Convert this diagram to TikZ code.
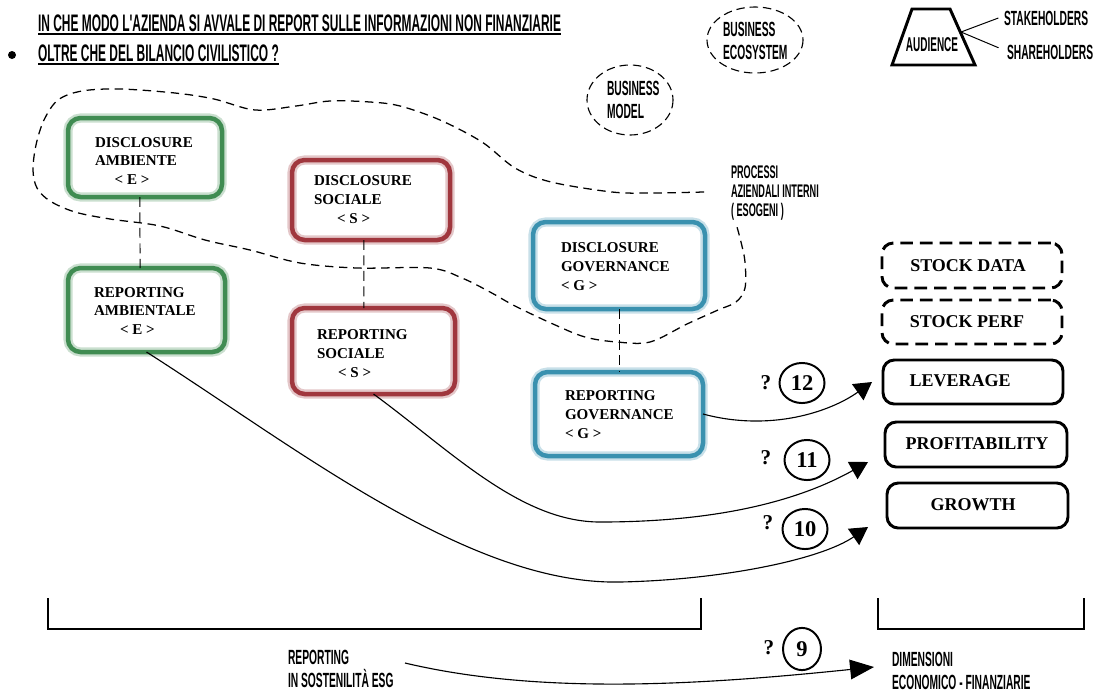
\documentclass[tikz,border=0pt]{standalone}
\usepackage{fontspec}
\setmainfont{Liberation Serif}
\newfontfamily\cndfont{Liberation Sans Bold}[FakeStretch=0.5]
\usetikzlibrary{arrows.meta,fit,shapes.geometric}

\definecolor{esgG}{RGB}{64,140,82}
\definecolor{esgS}{RGB}{160,55,62}
\definecolor{esgB}{RGB}{58,145,175}

\begin{document}
\begin{tikzpicture}[x=0.025cm, y=-0.025cm,
  every node/.style={inner sep=0pt, outer sep=0pt},
  % condensed sans labels
  ttl/.style={font=\cndfont\fontsize{17pt}{20pt}\selectfont, anchor=base west},
  lbl/.style={font=\cndfont\fontsize{14.6pt}{16pt}\selectfont, align=left, anchor=west},
  lblsm/.style={font=\cndfont\fontsize{13pt}{13.5pt}\selectfont, align=left, anchor=west},
  % ESG boxes
  esgbox/.style={draw=#1, line width=3.2pt, rounded corners=9pt,
    preaction={draw=#1!28, line width=6.5pt}},
  btxt/.style={font=\bfseries\fontsize{10.7pt}{13.5pt}\selectfont, align=left, anchor=west},
  % financial dimension boxes
  figbox/.style={draw, line width=2.1pt, rounded corners=8pt},
  figdash/.style={figbox, dash pattern=on 9pt off 5pt},
  rtxt/.style={font=\bfseries\fontsize{12.8pt}{15pt}\selectfont},
  % numbered questions
  qnum/.style={draw, ellipse, line width=1.4pt, minimum width=32pt, minimum height=28.5pt,
    font=\bfseries\fontsize{16pt}{16pt}\selectfont},
  qmark/.style={font=\bfseries\fontsize{15pt}{15pt}\selectfont},
  % lines
  vlink/.style={line width=0.7pt, dash pattern=on 7pt off 4pt},
  flow/.style={line width=0.8pt, -{Triangle[length=12.5pt,width=14pt]}},
  cloud/.style={line width=0.9pt, dash pattern=on 6pt off 4pt},
  bubble/.style={line width=0.8pt, dash pattern=on 6pt off 3.5pt},
  brk/.style={line width=2pt}
]
\fill[white] (0,0) rectangle (1102,693);
\useasboundingbox (0,0) rectangle (1102,693);

% ---- heading ----
\fill (12,55) circle (4);
\node[ttl] (t1) at (38,31) {IN CHE MODO L'AZIENDA SI AVVALE DI REPORT SULLE INFORMAZIONI NON FINANZIARIE};
\node[ttl] (t2) at (38,61) {OLTRE CHE DEL BILANCIO CIVILISTICO ?};
\draw[line width=1.1pt] ([yshift=-2pt]t1.base west) -- ([yshift=-2pt]t1.base east);
\draw[line width=1.1pt] ([yshift=-2pt]t2.base west) -- ([yshift=-2pt]t2.base east);

% ---- business bubbles ----
\draw[bubble] (755,40) ellipse (48 and 33);
\node[lbl] (eco) at (723,41) {BUSINESS\\ECOSYSTEM};
\draw[bubble] (630,100) ellipse (43 and 35);
\node[lbl] (bm) at (607,100) {BUSINESS\\MODEL};

% ---- audience ----
\draw[line width=2.1pt, line join=miter] (912,9) -- (950,9) -- (975,65) -- (892,65) -- cycle;
\node[font=\cndfont\fontsize{14.2pt}{15pt}\selectfont] (aud) at (932,45) {AUDIENCE};
\coordinate (audr) at (961,32);
\node[lbl] (stk) at (1004,18) {STAKEHOLDERS};
\node[lbl] (shr) at (1007,52) {SHAREHOLDERS};
\draw[line width=0.7pt] (audr) -- ([xshift=-4pt]stk.west);
\draw[line width=0.7pt] (audr) -- ([xshift=-6pt,yshift=3pt]shr.west);

% ---- internal processes boundary ----
\draw[cloud] plot[smooth, tension=0.55] coordinates {
  (704,192) (650,193) (612,192) (551,182) (515,168) (482,142) (440,120)
  (400,106) (370,102) (330,101) (296,106) (255,110) (214,99) (175,93)
  (120,89) (82,91) (58,100) (44,120) (36,145) (33,170) (37,188) (50,201)
  (75,212) (110,219) (160,226) (205,240) (250,250) (300,263) (357,268)
  (430,268) (462,278) (490,292) (515,306) (553,324) (585,337) (617,342)
  (650,342) (687,324) (718,310) (736,302) (745,288) (745,262) (741,242) (737,227)};
\node[lblsm] (proc) at (731,193) {PROCESSI\\AZIENDALI INTERNI\\( ESOGENI )};

% ---- ESG disclosure / reporting boxes ----
\node[esgbox=esgG, fit={(68,118) (222,197)}] (DA) {};
\node[btxt] (DAt) at (95,161) {DISCLOSURE\\AMBIENTE\\\hspace*{14pt}< E >};
\node[esgbox=esgG, fit={(68,268) (225,352)}] (RA) {};
\node[btxt] (RAt) at (94,311) {REPORTING\\AMBIENTALE\\\hspace*{18.5pt}< E >};

\node[esgbox=esgS, fit={(292,160) (450,240)}] (DS) {};
\node[btxt] (DSt) at (314,200) {DISCLOSURE\\SOCIALE\\\hspace*{16.4pt}< S >};
\node[esgbox=esgS, fit={(292,308) (455,394)}] (RS) {};
\node[btxt] (RSt) at (317,354) {REPORTING\\SOCIALE\\\hspace*{15pt}< S >};

\node[esgbox=esgB, fit={(533,222) (705,309)}] (DG) {};
\node[btxt] (DGt) at (561,267) {DISCLOSURE\\GOVERNANCE\\< G >};
\node[esgbox=esgB, fit={(535,372) (703,456)}] (RG) {};
\node[btxt] (RGt) at (565,415) {REPORTING\\GOVERNANCE\\< G >};

\draw[vlink] ([xshift=-3.6pt]DA.south) -- ([xshift=-4.6pt]RA.north);
\draw[vlink] ([xshift=-5pt]DS.south) -- ([xshift=-6.8pt]RS.north);
\draw[vlink] (DG.south) -- (RG.north);

% ---- economic-financial dimensions ----
\node[figdash, fit={(882,243) (1062,288)}] (SD) {};
\node[rtxt] (SDt) at (968,266) {STOCK DATA};
\node[figdash, fit={(882,300) (1062,344)}] (SP) {};
\node[rtxt] (SPt) at (967,322) {STOCK PERF};
\node[figbox, fit={(883,360) (1063,404)}] (LEV) {};
\node[rtxt] (LEVt) at (960,381) {LEVERAGE};
\node[figbox, fit={(885,422) (1067,467)}] (PRO) {};
\node[rtxt] (PROt) at (977,444) {PROFITABILITY};
\node[figbox, fit={(887,483) (1068,528)}] (GRO) {};
\node[rtxt] (GROt) at (973,505) {GROWTH};

% ---- numbered questions ----
\node[qmark] (q12) at (766,383) {?};
\node[qnum] (n12) at (802,383) {12};
\node[qmark] (q11) at (766,458) {?};
\node[qnum] (n11) at (807,460) {11};
\node[qmark] (q10) at (768,523) {?};
\node[qnum] (n10) at (805,529) {10};
\node[qmark] (q9) at (769,648) {?};
\node[qnum, minimum width=27pt, minimum height=30pt] (n9) at (802,649) {9};

% ---- links from reporting to the financial dimensions ----
\coordinate (tip12) at (872,382);
\coordinate (tip11) at (868,462);
\coordinate (tip10) at (868,527);
\draw[flow] (RG.east) .. controls (770,432) and (830,412) .. (tip12);
\draw[flow] (RS.south) .. controls (450,450) and (520,522) .. (600,522)
  .. controls (720,522) and (800,500) .. (tip11);
\draw[flow] (RA.south) .. controls (300,450) and (470,585) .. (620,582)
  .. controls (720,580) and (820,560) .. (tip10);

% ---- brackets and summary ----
\draw[brk] (48,598) -- (48,629) -- (701,629) -- (701,598);
\draw[brk] (878,598) -- (878,629) -- (1084,629) -- (1084,598);
\node[lbl] (esg) at (288,669) {REPORTING\\IN SOSTENILITÀ ESG};
\node[lbl] (dim) at (892,671) {DIMENSIONI\\ECONOMICO - FINANZIARIE};
\coordinate (s9) at (405,663);
\coordinate (tip9) at (874,667);
\draw[line width=0.8pt, -{Triangle[length=17pt,width=14pt]}] (s9) .. controls (540,695) and (700,685) .. (tip9);

\end{tikzpicture}
\end{document}
